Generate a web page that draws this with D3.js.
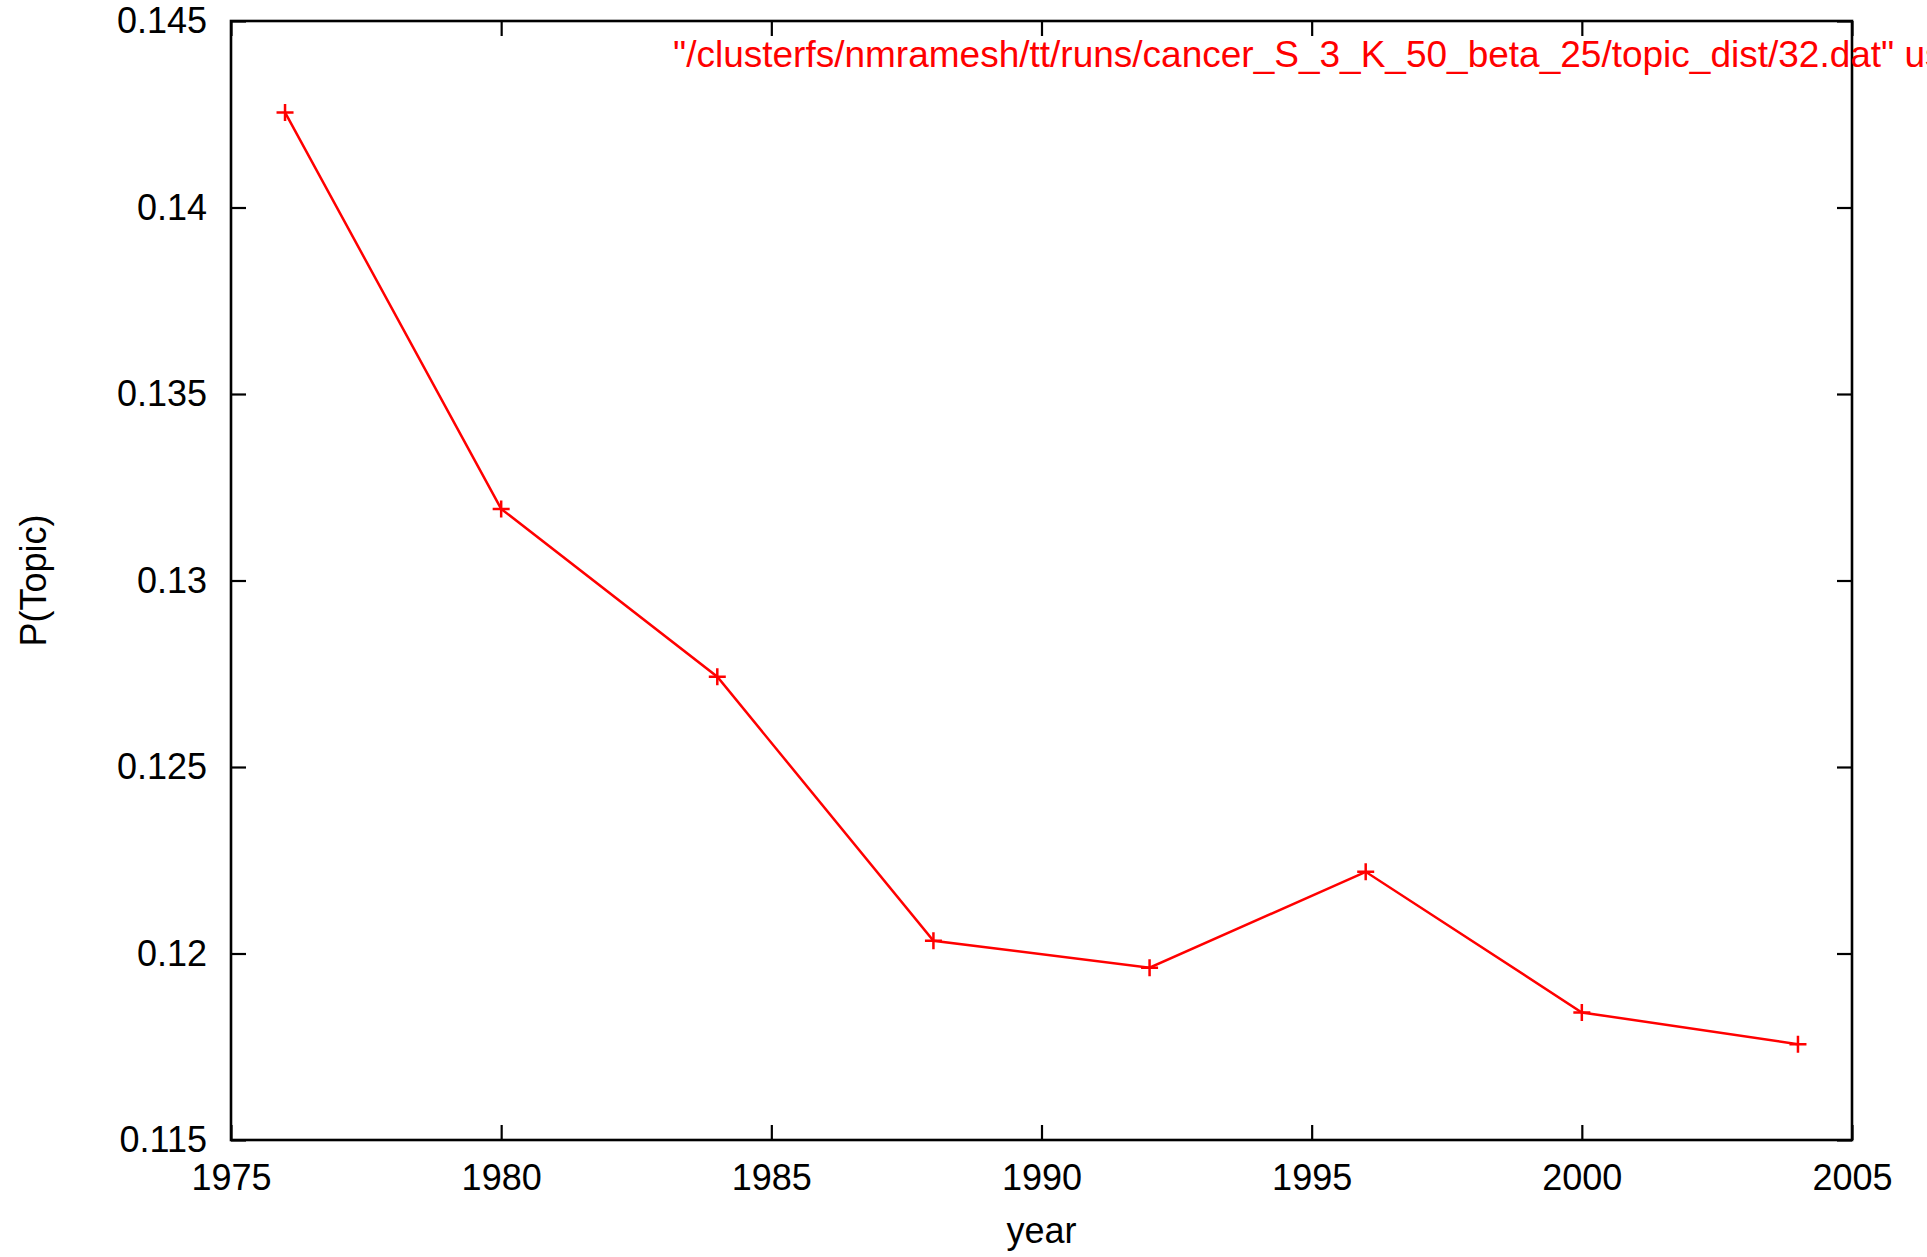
<!DOCTYPE html>
<html>
<head>
<meta charset="utf-8">
<script src="https://cdn.jsdelivr.net/npm/d3@7"></script>
<style>
  body { margin: 0; background: #fff; }
  svg { display: block; }
  text { font-family: "Liberation Sans", Arial, sans-serif; }
</style>
</head>
<body>
<div id="chart"></div>
<script>
let width_chart = 1927;
let height_chart = 1257;

let margin_chart = {top: 21, bottom: 117, left: 231, right: 75};

// data
let years = [1976, 1980, 1984, 1988, 1992, 1996, 2000, 2004];
let p_topic = [0.14255, 0.13192, 0.12742, 0.12034, 0.11962, 0.12219, 0.11842, 0.11757];

let x_ticks = [1975, 1980, 1985, 1990, 1995, 2000, 2005];
let y_ticks = [0.115, 0.12, 0.125, 0.13, 0.135, 0.14, 0.145];
let y_tick_labels = ["0.115", "0.12", "0.125", "0.13", "0.135", "0.14", "0.145"];

let key_label = '"/clusterfs/nmramesh/tt/runs/cancer_S_3_K_50_beta_25/topic_dist/32.dat" using 1:2';

let tick_len = 15;
let font_size = 36;

let svg_chart = d3.select("#chart")
    .append("svg")
    .attr("width", width_chart)
    .attr("height", height_chart);

let plot_w = width_chart - margin_chart.left - margin_chart.right;
let plot_h = height_chart - margin_chart.top - margin_chart.bottom;

let xScale = d3.scaleLinear().domain([1975, 2005]).range([0, plot_w]);
let yScale = d3.scaleLinear().domain([0.115, 0.145]).range([plot_h, 0]);

let g = svg_chart.append("g")
    .attr("transform", "translate(" + margin_chart.left + "," + margin_chart.top + ")");

// mirrored inward ticks, gnuplot style
function styleAxis(sel) {
    sel.select(".domain").remove();
    sel.selectAll(".tick line").attr("stroke", "#000").attr("stroke-width", 2.2);
    sel.selectAll(".tick text").attr("fill", "#000").attr("font-size", font_size)
        .attr("font-family", '"Liberation Sans", Arial, sans-serif');
}

let xAxisBottom = d3.axisBottom(xScale).tickValues(x_ticks).tickFormat(d3.format("d"))
    .tickSizeInner(-tick_len).tickSizeOuter(0).tickPadding(24);
g.append("g").attr("transform", "translate(0," + plot_h + ")").call(xAxisBottom).call(styleAxis);

let xAxisTop = d3.axisTop(xScale).tickValues(x_ticks).tickFormat("")
    .tickSizeInner(-tick_len).tickSizeOuter(0);
g.append("g").call(xAxisTop).call(styleAxis);

let yAxisLeft = d3.axisLeft(yScale).tickValues(y_ticks)
    .tickFormat((d, i) => y_tick_labels[i])
    .tickSizeInner(-tick_len).tickSizeOuter(0).tickPadding(24);
g.append("g").call(yAxisLeft).call(styleAxis);

let yAxisRight = d3.axisRight(yScale).tickValues(y_ticks).tickFormat("")
    .tickSizeInner(-tick_len).tickSizeOuter(0);
g.append("g").attr("transform", "translate(" + plot_w + ",0)").call(yAxisRight).call(styleAxis);

// frame
g.append("rect")
    .attr("x", 0).attr("y", 0)
    .attr("width", plot_w).attr("height", plot_h)
    .attr("fill", "none")
    .attr("stroke", "#000")
    .attr("stroke-width", 2.6);

// series
let series = years.map((y, i) => ({year: y, value: p_topic[i]}));

let line = d3.line()
    .x(d => xScale(d.year))
    .y(d => yScale(d.value));

g.append("path")
    .datum(series)
    .attr("d", line)
    .attr("fill", "none")
    .attr("stroke", "#ff0000")
    .attr("stroke-width", 2.5);

let marker_size = 8.5;
g.selectAll(".point")
    .data(series)
    .join("path")
    .attr("class", "point")
    .attr("d", d => {
        let cx = xScale(d.year), cy = yScale(d.value);
        return "M" + (cx - marker_size) + "," + cy + "H" + (cx + marker_size) +
            "M" + cx + "," + (cy - marker_size) + "V" + (cy + marker_size);
    })
    .attr("stroke", "#ff0000")
    .attr("stroke-width", 2.5);

// key text (runs past the right edge like the original)
svg_chart.append("text")
    .attr("x", 673)
    .attr("y", 67)
    .attr("fill", "#ff0000")
    .attr("font-size", 37)
    .text(key_label);

// axis labels
svg_chart.append("text")
    .attr("x", margin_chart.left + plot_w / 2)
    .attr("y", 1243)
    .attr("text-anchor", "middle")
    .attr("font-size", font_size)
    .text("year");

svg_chart.append("text")
    .attr("transform", "translate(46," + (margin_chart.top + plot_h / 2) + ") rotate(-90)")
    .attr("text-anchor", "middle")
    .attr("font-size", font_size)
    .text("P(Topic)");
</script>
</body>
</html>
